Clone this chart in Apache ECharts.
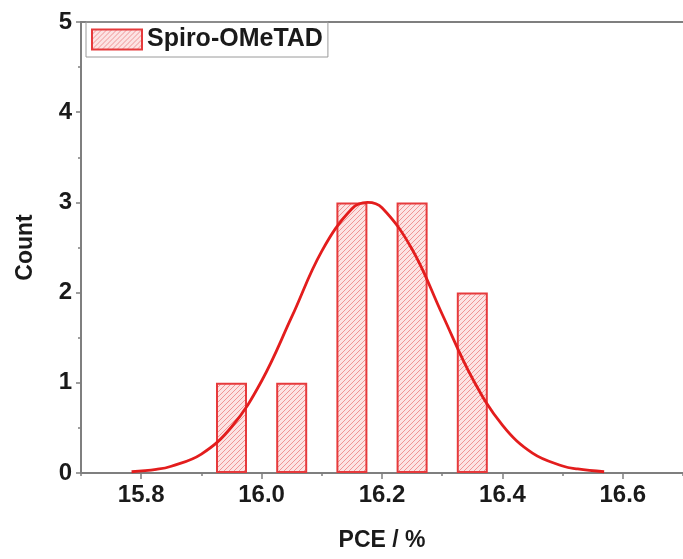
<!DOCTYPE html>
<html>
<head>
<meta charset="utf-8">
<script src="https://cdn.jsdelivr.net/npm/echarts@6/dist/echarts.min.js"></script>
<style>
  html, body { margin: 0; padding: 0; background: #fff; }
  #chart { width: 683px; height: 559px; }
</style>
</head>
<body>
<div id="chart"></div>
<script>
// histogram bins (centers) and counts
var binCenters = [15.95, 16.05, 16.15, 16.25, 16.35];
var counts = [1, 1, 3, 3, 2];
// gaussian fit
var fitX = [15.784, 15.825, 15.85, 15.90, 15.95, 16.00, 16.05, 16.10, 16.15, 16.176, 16.20, 16.25, 16.30, 16.35, 16.40, 16.45, 16.50, 16.525, 16.569];
var fitY = [0.014, 0.04, 0.075, 0.21, 0.51, 1.02, 1.73, 2.46, 2.93, 3.0, 2.94, 2.48, 1.76, 1.05, 0.53, 0.22, 0.078, 0.045, 0.014];
var majorTicks = [15.8, 16.0, 16.2, 16.4, 16.6];
var minorTicks = [15.7, 15.9, 16.1, 16.3, 16.5, 16.7];

var FONT = "'Liberation Sans', Arial, sans-serif";
var RED = '#e31d1d';
var GREY = '#7f7f7f';

// hatched fill
var hatch = (function () {
    var c = document.createElement('canvas');
    var s = 5;
    c.width = s; c.height = s;
    var g = c.getContext('2d');
    g.fillStyle = '#fce4e4';
    g.fillRect(0, 0, s, s);
    g.strokeStyle = 'rgba(228,70,70,0.5)';
    g.lineWidth = 1;
    g.beginPath();
    g.moveTo(-1, s + 1); g.lineTo(s + 1, -1);
    g.moveTo(-1, 1); g.lineTo(1, -1);
    g.moveTo(s - 1, s + 1); g.lineTo(s + 1, s - 1);
    g.stroke();
    return c;
})();

var chart = echarts.init(document.getElementById('chart'), null, {renderer: 'canvas'});

var option = {
    animation: false,
    grid: {left: 81, top: 22, right: -4, bottom: 86, containLabel: false},
    legend: {
        data: [{name: 'Spiro-OMeTAD', icon: 'rect'}],
        left: 86, top: 22,
        orient: 'vertical',
        itemWidth: 50, itemHeight: 20,
        padding: [5, 5, 5, 5],
        borderColor: '#9a9a9a', borderWidth: 1,
        textStyle: {fontFamily: FONT, fontWeight: 'bold', fontSize: 25, color: '#1a1a1a'}
    },
    xAxis: [{
        type: 'value', min: 15.7, max: 16.7, position: 'bottom',
        name: 'PCE / %', nameLocation: 'middle', nameGap: 56,
        nameTextStyle: {fontFamily: FONT, fontWeight: 'bold', fontSize: 23, color: '#1a1a1a'},
        axisLine: {show: true, onZero: false, lineStyle: {color: GREY, width: 2}},
        axisTick: {show: true, customValues: majorTicks, length: 6, lineStyle: {color: GREY, width: 1.5}},
        axisLabel: {customValues: majorTicks, margin: 10, formatter: function (v) { return v.toFixed(1); }, fontFamily: FONT, fontWeight: 'bold', fontSize: 24, color: '#1a1a1a'},
        splitLine: {show: false}
    }, {
        type: 'value', min: 15.7, max: 16.7, position: 'bottom',
        axisLine: {show: false},
        axisTick: {show: true, customValues: minorTicks, length: 3, lineStyle: {color: GREY, width: 1.5}},
        axisLabel: {show: false},
        splitLine: {show: false}
    }, {
        type: 'value', min: 15.7, max: 16.7, position: 'top',
        axisLine: {show: true, lineStyle: {color: GREY, width: 2}},
        axisTick: {show: false},
        axisLabel: {show: false},
        splitLine: {show: false}
    }],
    yAxis: {
        type: 'value', min: 0, max: 5, interval: 1,
        name: 'Count', nameLocation: 'middle', nameGap: 44,
        nameTextStyle: {fontFamily: FONT, fontWeight: 'bold', fontSize: 23, color: '#1a1a1a'},
        axisLine: {show: true, lineStyle: {color: GREY, width: 2}},
        axisTick: {show: true, length: 5, lineStyle: {color: GREY, width: 1.5}},
        minorTick: {show: true, splitNumber: 2, length: 3, lineStyle: {color: GREY, width: 1.5}},
        axisLabel: {margin: 9, fontFamily: FONT, fontWeight: 'bold', fontSize: 24, color: '#1a1a1a'},
        splitLine: {show: false}
    },
    series: [{
        name: 'Spiro-OMeTAD',
        type: 'bar',
        xAxisIndex: 0,
        barWidth: 31,
        data: binCenters.map(function (x, i) { return [x, counts[i]]; }),
        itemStyle: {color: {image: hatch, repeat: 'repeat'}, borderColor: '#e63a3c', borderWidth: 2}
    }, {
        name: 'fit',
        type: 'line',
        xAxisIndex: 0,
        smooth: 0.4,
        showSymbol: false,
        symbol: 'none',
        data: fitX.map(function (x, i) { return [x, fitY[i]]; }),
        lineStyle: {color: RED, width: 2.8},
        z: 5
    }]
};
chart.setOption(option);
</script>
</body>
</html>
